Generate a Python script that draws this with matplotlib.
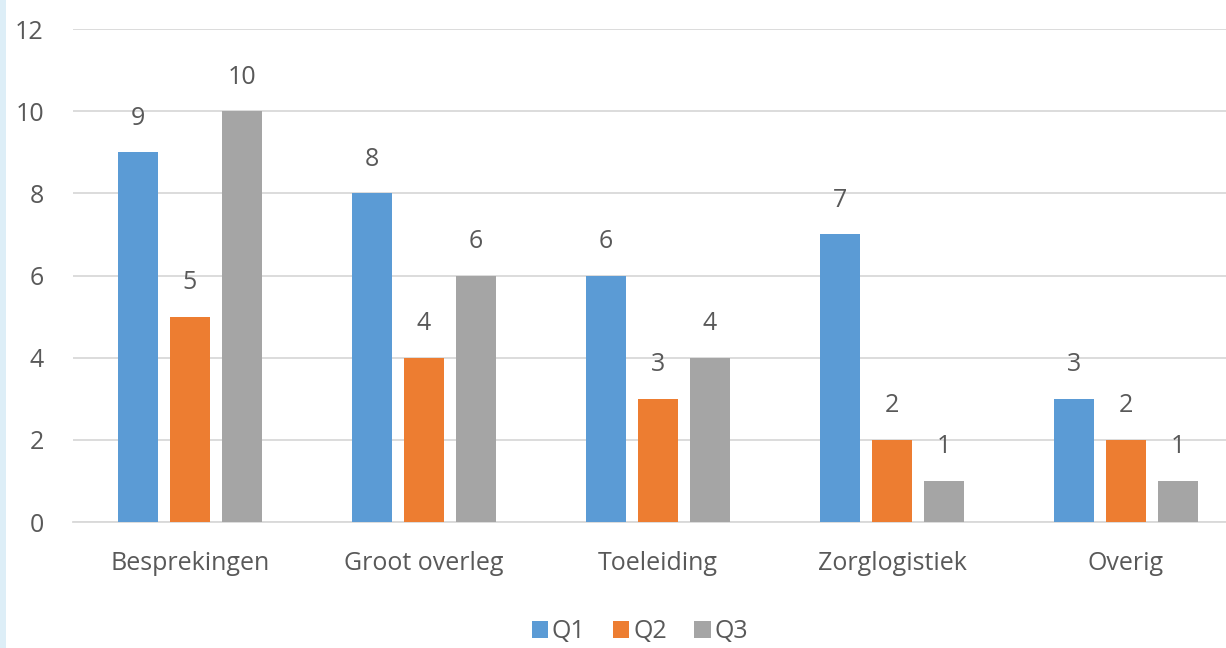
import matplotlib
matplotlib.use("Agg")
import matplotlib.pyplot as plt
import numpy as np
from matplotlib.patches import Rectangle

categories = ["Besprekingen", "Groot overleg", "Toeleiding", "Zorglogistiek", "Overig"]
series_names = ["Q1", "Q2", "Q3"]
q1 = [9, 8, 6, 7, 3]
q2 = [5, 4, 3, 2, 2]
q3 = [10, 6, 4, 1, 1]
yticks = [0, 2, 4, 6, 8, 10, 12]

colors = ["#5B9BD5", "#ED7D31", "#A5A5A5"]
text_color = "#595959"
grid_color = "#D9D9D9"
fs = 18

plt.rcParams['font.family'] = ['Open Sans', 'DejaVu Sans']

fig = plt.figure(figsize=(12.26, 6.48), dpi=100)
fig.patches.append(Rectangle((0, 0), 6/1226, 1, transform=fig.transFigure,
                             facecolor="#DDEEF7", edgecolor="none", zorder=0))
ax = fig.add_axes([73/1226, 1 - 522/648, (1243 - 73)/1226, (522 - 29)/648])

x = np.arange(len(categories))
width = 0.172
step = 0.222
for i, (vals, name) in enumerate(zip([q1, q2, q3], series_names)):
    pos = x + (i - 1) * step
    ax.bar(pos, vals, width=width, color=colors[i], label=name, zorder=3)
    for px, v in zip(pos, vals):
        ax.annotate(str(v), (px, v), xytext=(0, 24.5), textcoords="offset points",
                    ha="center", va="center", fontsize=fs, color=text_color)

ax.set_xlim(-0.5, len(categories) - 0.5)
ax.set_ylim(0, 12)
ax.set_yticks(yticks)
ax.set_xticks(x)
ax.set_xticklabels(categories)
ax.yaxis.grid(True, color=grid_color, linewidth=1.3, zorder=0)
ax.set_axisbelow(True)
for s in ["top", "right", "left"]:
    ax.spines[s].set_visible(False)
ax.spines["bottom"].set_color(grid_color)
ax.spines["bottom"].set_linewidth(1.3)
ax.tick_params(axis="both", length=0, colors=text_color, labelsize=fs)
ax.tick_params(axis="x", pad=21)
ax.tick_params(axis="y", pad=21)
for lab in ax.get_yticklabels():
    lab.set_horizontalalignment("right")

leg = fig.legend(loc="center", bbox_to_anchor=(640/1226, 1 - 632/648), ncol=3,
                 frameon=False, fontsize=fs, handlelength=0.65, handleheight=0.65,
                 handletextpad=0.15, columnspacing=1.1, labelcolor=text_color)

fig.savefig("out.png", dpi=100)
